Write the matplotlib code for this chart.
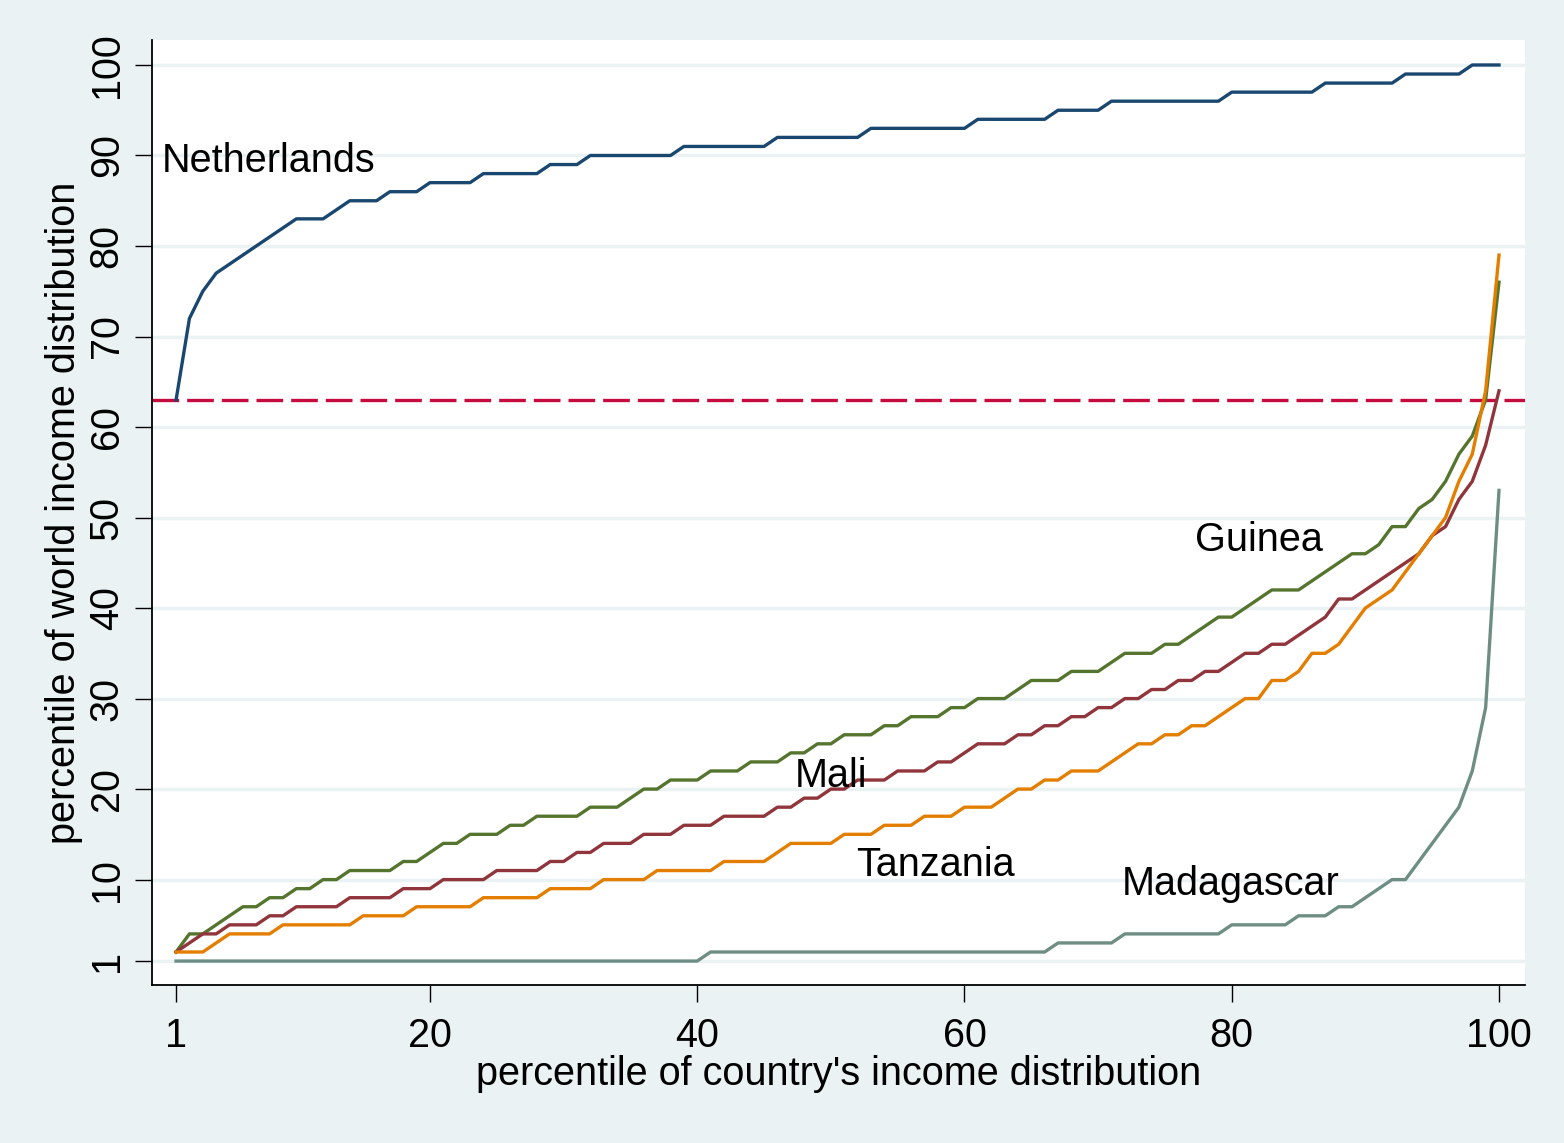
import numpy as np
import matplotlib.pyplot as plt

plt.rcParams['font.family'] = ['Liberation Sans', 'DejaVu Sans']

# ----------- data: percentile of world income distribution ----------- #
pctile = np.arange(1, 101)

netherlands = [63, 72, 75, 77, 78, 79, 80, 81, 82, 83,
               83, 83, 84, 85, 85, 85, 86, 86, 86, 87,
               87, 87, 87, 88, 88, 88, 88, 88, 89, 89,
               89, 90, 90, 90, 90, 90, 90, 90, 91, 91,
               91, 91, 91, 91, 91, 92, 92, 92, 92, 92,
               92, 92, 93, 93, 93, 93, 93, 93, 93, 93,
               94, 94, 94, 94, 94, 94, 95, 95, 95, 95,
               96, 96, 96, 96, 96, 96, 96, 96, 96, 97,
               97, 97, 97, 97, 97, 97, 98, 98, 98, 98,
               98, 98, 99, 99, 99, 99, 99, 100, 100, 100]

guinea = [2, 4, 4, 5, 6, 7, 7, 8, 8, 9,
          9, 10, 10, 11, 11, 11, 11, 12, 12, 13,
          14, 14, 15, 15, 15, 16, 16, 17, 17, 17,
          17, 18, 18, 18, 19, 20, 20, 21, 21, 21,
          22, 22, 22, 23, 23, 23, 24, 24, 25, 25,
          26, 26, 26, 27, 27, 28, 28, 28, 29, 29,
          30, 30, 30, 31, 32, 32, 32, 33, 33, 33,
          34, 35, 35, 35, 36, 36, 37, 38, 39, 39,
          40, 41, 42, 42, 42, 43, 44, 45, 46, 46,
          47, 49, 49, 51, 52, 54, 57, 59, 63, 76]

mali = [2, 3, 4, 4, 5, 5, 5, 6, 6, 7,
        7, 7, 7, 8, 8, 8, 8, 9, 9, 9,
        10, 10, 10, 10, 11, 11, 11, 11, 12, 12,
        13, 13, 14, 14, 14, 15, 15, 15, 16, 16,
        16, 17, 17, 17, 17, 18, 18, 19, 19, 20,
        20, 21, 21, 21, 22, 22, 22, 23, 23, 24,
        25, 25, 25, 26, 26, 27, 27, 28, 28, 29,
        29, 30, 30, 31, 31, 32, 32, 33, 33, 34,
        35, 35, 36, 36, 37, 38, 39, 41, 41, 42,
        43, 44, 45, 46, 48, 49, 52, 54, 58, 64]

tanzania = [2, 2, 2, 3, 4, 4, 4, 4, 5, 5,
            5, 5, 5, 5, 6, 6, 6, 6, 7, 7,
            7, 7, 7, 8, 8, 8, 8, 8, 9, 9,
            9, 9, 10, 10, 10, 10, 11, 11, 11, 11,
            11, 12, 12, 12, 12, 13, 14, 14, 14, 14,
            15, 15, 15, 16, 16, 16, 17, 17, 17, 18,
            18, 18, 19, 20, 20, 21, 21, 22, 22, 22,
            23, 24, 25, 25, 26, 26, 27, 27, 28, 29,
            30, 30, 32, 32, 33, 35, 35, 36, 38, 40,
            41, 42, 44, 46, 48, 50, 54, 57, 64, 79]

madagascar = [1, 1, 1, 1, 1, 1, 1, 1, 1, 1,
              1, 1, 1, 1, 1, 1, 1, 1, 1, 1,
              1, 1, 1, 1, 1, 1, 1, 1, 1, 1,
              1, 1, 1, 1, 1, 1, 1, 1, 1, 1,
              2, 2, 2, 2, 2, 2, 2, 2, 2, 2,
              2, 2, 2, 2, 2, 2, 2, 2, 2, 2,
              2, 2, 2, 2, 2, 2, 3, 3, 3, 3,
              3, 4, 4, 4, 4, 4, 4, 4, 4, 5,
              5, 5, 5, 5, 6, 6, 6, 7, 7, 8,
              9, 10, 10, 12, 14, 16, 18, 22, 29, 53]

ref_level = 63

y_ticks = [1, 10, 20, 30, 40, 50, 60, 70, 80, 90, 100]
x_ticks = [1, 20, 40, 60, 80, 100]

# ----------- plot ----------- #
bg = '#EAF2F3'
fig = plt.figure(figsize=(15.64, 11.43), dpi=100, facecolor=bg)
ax = fig.add_axes([0.0972, 0.1382, 0.8779, 0.8268])
ax.set_facecolor('white')

ax.axhline(ref_level, color='#C60C3E', lw=2.4, dashes=(8, 2.4), zorder=2)

lw = 2.4
ax.plot(pctile, netherlands, color='#1A476F', lw=lw, zorder=3)
ax.plot(pctile, guinea, color='#55752F', lw=lw, zorder=3)
ax.plot(pctile, mali, color='#90353B', lw=lw, zorder=3)
ax.plot(pctile, tanzania, color='#E37E00', lw=lw, zorder=3)
ax.plot(pctile, madagascar, color='#6E8E84', lw=lw, zorder=3)

fs = 28.5
ax.text(-0.05, 89.4, 'Netherlands', fontsize=fs, ha='left', va='center')
ax.text(77.25, 47.5, 'Guinea', fontsize=fs, ha='left', va='center')
ax.text(47.3, 21.5, 'Mali', fontsize=fs, ha='left', va='center')
ax.text(51.9, 11.6, 'Tanzania', fontsize=fs, ha='left', va='center')
ax.text(71.8, 9.5, 'Madagascar', fontsize=fs, ha='left', va='center')

ax.set_xlim(-0.8, 101.95)
ax.set_ylim(-1.65, 102.76)
ax.set_xticks(x_ticks)
ax.set_yticks(y_ticks)
ax.grid(axis='y', color=bg, lw=2.5, zorder=0)
ax.set_axisbelow(True)

for s in ['top', 'right']:
    ax.spines[s].set_visible(False)
for s in ['left', 'bottom']:
    ax.spines[s].set_linewidth(1.3)

ax.tick_params(axis='both', direction='out', length=12, width=1.0,
               labelsize=fs)
ax.tick_params(axis='x', pad=11)
ax.tick_params(axis='y', labelrotation=90, pad=7)
for lab in ax.get_yticklabels():
    lab.set_va('center')

ax.set_xlabel("percentile of country's income distribution", fontsize=fs)
ax.set_ylabel('percentile of world income distribution', fontsize=fs)
ax.xaxis.set_label_coords(0.5, -0.074)
ax.yaxis.set_label_coords(-0.05, 0.5)

fig.savefig('out.png', dpi=100, facecolor=bg)
